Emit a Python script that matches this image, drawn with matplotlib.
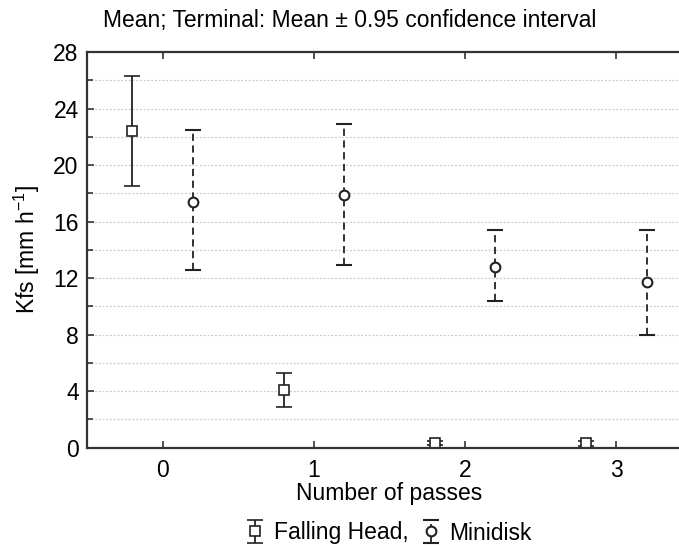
import matplotlib
matplotlib.use("Agg")
import matplotlib.pyplot as plt
import numpy as np

plt.rcParams['font.family'] = ['Liberation Sans', 'DejaVu Sans']

passes = [0, 1, 2, 3]
fh_mean = [22.4, 4.05, 0.35, 0.3]
fh_low = [18.55, 2.85, 0.2, 0.15]
fh_high = [26.3, 5.3, 0.5, 0.45]
md_mean = [17.4, 17.85, 12.8, 11.7]
md_low = [12.6, 12.9, 10.4, 8.0]
md_high = [22.45, 22.9, 15.4, 15.4]
yticks = [0, 4, 8, 12, 16, 20, 24, 28]

W, H = 679, 547
FS = 16.5
fig = plt.figure(figsize=(W / 100, H / 100), dpi=100)
ax = fig.add_axes([87 / W, 1 - 447.7 / H, (692 - 87) / W, (447.7 - 52) / H])

x = np.array(passes, dtype=float)
fh_mean_a = np.array(fh_mean)
md_mean_a = np.array(md_mean)
fh_err = [fh_mean_a - np.array(fh_low), np.array(fh_high) - fh_mean_a]
md_err = [md_mean_a - np.array(md_low), np.array(md_high) - md_mean_a]

c1 = ax.errorbar(x - 0.2, fh_mean, yerr=fh_err, fmt='s', ms=7, mfc='white',
                 mec='#222222', mew=1.2, ecolor='#222222', elinewidth=1.3,
                 capsize=6, capthick=1.3, label='Falling Head,')
c2 = ax.errorbar(x + 0.2, md_mean, yerr=md_err, fmt='o', ms=7, mfc='white',
                 mec='#222222', mew=1.5, ecolor='#222222', elinewidth=1.3,
                 capsize=6, capthick=1.3, label='Minidisk')
c2[2][0].set_linestyle((0, (4, 2.5)))

ax.set_xlim(-0.5, 3.5)
ax.set_ylim(0, 28)
ax.set_xticks(passes)
ax.set_yticks(yticks)
ax.set_yticks(np.arange(0, 29, 2), minor=True)
for yv in np.arange(2, 28, 2):
    ax.axhline(yv, color='#c4cccc', linestyle=(0, (1.5, 1.5)), linewidth=0.9, zorder=0)

ax.tick_params(axis='both', which='both', direction='in', labelsize=FS,
               color='#333333', width=1.2)
ax.tick_params(axis='x', which='major', length=5, top=True, pad=8)
ax.tick_params(axis='y', which='major', length=5, pad=6)
ax.tick_params(axis='y', which='minor', length=4)
for s in ax.spines.values():
    s.set_color('#333333')
    s.set_linewidth(1.6)

ax.set_xlabel('Number of passes', fontsize=FS, labelpad=0)
ax.set_ylabel('Kfs [mm h$^{\\mathregular{-1}}$]', fontsize=FS, labelpad=8)
fig.text(350 / W, 1 - 20 / H, 'Mean; Terminal: Mean \u00b1 0.95 confidence interval',
         fontsize=FS, ha='center', va='center')

leg = fig.legend(handles=[c1, c2], loc='center', bbox_to_anchor=(389 / W, 1 - 533 / H),
                 ncol=2, frameon=False, fontsize=FS, handlelength=0.8,
                 handletextpad=0.4, columnspacing=0.6, borderaxespad=0,
                 borderpad=0)

fig.savefig('out.png', dpi=100)
